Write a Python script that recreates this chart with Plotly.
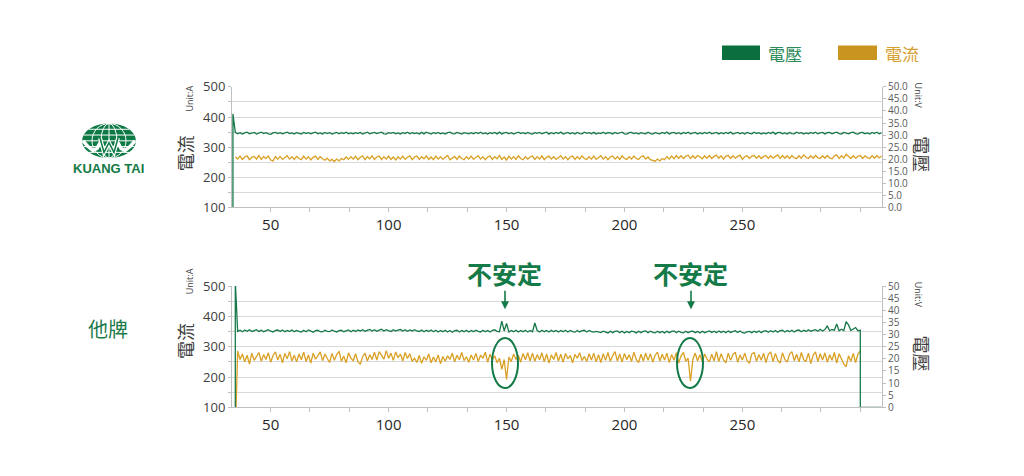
import plotly.graph_objects as go

W, H = 1024, 476

# ---------------- data ----------------
# top chart (KUANG TAI): time 35..309
TOP_START = 35
VOLT_TOP = [
    31.1,30.5,31.0,30.4,30.9,31.2,30.5,30.8,31.1,30.4,30.9,31.2,30.6,31.0,30.5,30.3,30.9,31.1,30.6,31.0,30.5,30.8,31.2,30.6,30.9,
    30.4,31.0,30.7,30.4,31.1,30.6,31.0,30.5,30.9,31.2,30.5,30.9,30.4,31.1,30.6,31.0,30.4,30.8,31.1,30.5,31.0,30.6,31.2,30.5,30.9,
    30.5,31.0,30.6,31.1,30.4,30.9,31.2,30.5,30.8,31.1,30.6,30.9,31.2,30.5,30.4,31.0,30.7,31.1,30.5,30.9,30.4,31.0,30.6,31.2,30.5,
    31.0,30.6,30.9,30.4,31.1,30.5,31.2,30.7,30.4,31.0,30.6,31.1,30.5,30.9,30.4,31.0,31.2,30.6,30.5,31.1,30.7,30.4,31.0,30.9,30.5,
    31.0,30.5,31.1,30.6,31.2,30.5,30.9,30.4,31.0,30.6,31.1,30.5,31.2,30.4,30.9,31.1,30.5,31.0,30.4,30.9,31.2,30.6,31.0,30.5,31.1,
    30.6,30.4,31.0,30.7,31.1,30.5,30.9,31.2,30.4,31.0,30.5,31.1,30.6,31.2,30.4,30.9,31.1,30.5,31.0,30.4,31.1,30.6,30.5,31.2,30.7,
    31.0,30.5,31.1,30.4,30.9,30.6,31.2,30.5,31.0,30.9,30.4,31.1,30.6,30.9,31.2,30.5,30.4,31.0,31.1,30.6,30.9,30.4,31.0,30.7,30.5,
    31.2,30.6,30.4,31.0,30.7,30.5,31.1,30.6,31.2,30.4,30.9,31.1,30.5,31.0,30.4,31.1,30.6,31.2,30.5,30.9,31.1,30.4,31.0,30.5,31.1,
    30.6,31.2,30.5,30.9,31.1,30.4,31.0,30.5,31.1,30.6,31.2,30.4,30.9,31.1,30.5,31.0,30.4,31.1,30.7,30.5,31.2,30.6,31.0,30.4,30.9,
    30.5,31.1,30.6,31.2,30.4,31.0,31.1,30.5,30.9,30.4,31.1,30.6,30.5,31.2,30.7,31.0,30.4,30.9,30.5,31.1,30.6,31.2,30.5,30.9,31.1,
    30.4,31.0,31.1,30.5,30.9,31.2,30.6,30.4,31.1,30.7,30.5,31.0,31.2,30.6,30.4,31.0,31.1,30.5,30.9,30.4,31.1,30.6,31.2,30.5,30.9,
]
VOLT_TOP_START = [0.0, 38.8]   # power-on spike at t=34
CURR_TOP = [
    268,260,270,259,267,271,258,266,269,260,272,259,268,262,270,257,254,268,260,269,259,266,271,260,268,
    259,269,262,258,270,260,268,257,266,270,259,268,261,256,263,254,259,252,260,254,262,258,267,259,268,
    260,269,258,266,271,258,268,261,271,259,267,270,258,268,260,270,259,267,257,268,260,270,259,266,271,
    258,267,270,259,268,261,271,259,267,258,270,260,268,259,266,272,258,265,269,259,270,262,258,268,260,
    270,259,266,271,260,268,258,267,270,259,268,261,272,259,267,257,270,260,268,259,271,262,258,268,260,
    267,270,259,268,260,271,258,266,270,260,268,259,266,271,260,268,258,267,270,259,268,260,271,262,259,
    268,260,270,259,266,271,260,268,258,267,270,260,268,259,271,262,259,268,260,270,262,259,268,271,260,
    267,258,255,253,260,254,262,258,268,260,270,261,272,263,271,262,270,273,262,271,263,272,268,261,271,
    263,272,262,269,273,263,271,260,270,272,262,271,263,269,273,259,268,271,262,270,272,263,271,262,269,
    272,262,271,263,269,274,262,272,263,271,262,272,264,262,271,263,274,266,262,271,263,272,265,262,271,
    263,272,264,261,271,274,262,271,264,276,270,262,271,263,269,272,262,271,265,262,271,263,272,264,270,
]

# bottom chart (other brand): time 36..300
BOT_START = 36
VOLT_BOT = [
    31.3,31.8,31.2,31.9,31.4,32.0,31.3,31.7,32.0,31.3,31.8,31.2,31.7,32.0,31.4,31.1,31.7,31.9,31.3,31.9,31.2,31.7,31.3,31.9,31.2,
    31.7,31.3,31.1,31.8,31.2,31.9,31.4,31.0,31.6,31.8,31.2,31.1,31.8,31.3,31.2,31.9,31.4,31.1,31.6,31.8,31.2,31.6,31.9,31.2,31.8,
    31.3,31.9,31.5,32.0,31.4,31.9,32.1,31.5,32.0,31.4,31.9,32.2,31.5,32.0,31.6,31.3,32.0,31.5,31.9,32.1,31.5,32.0,31.4,31.9,31.5,
    32.0,31.5,31.3,31.9,31.2,31.8,31.3,31.9,31.2,31.8,31.1,31.7,31.2,31.8,31.1,31.7,31.0,31.6,31.8,31.1,31.7,31.2,31.8,31.1,31.7,
    31.2,31.8,31.3,31.1,31.8,31.2,31.7,31.1,31.8,32.0,31.3,31.2,35.6,31.5,34.6,31.1,31.7,31.2,31.8,31.1,31.7,31.2,31.8,31.1,31.7,
    31.2,34.8,31.7,31.1,31.8,31.2,31.7,31.1,31.8,31.2,31.7,31.1,31.7,31.2,31.8,31.1,31.7,31.2,31.0,31.7,31.1,31.6,31.8,31.1,31.7,
    31.2,31.0,31.3,31.1,30.8,31.4,30.9,30.7,31.4,30.8,31.3,31.5,30.8,31.4,30.7,31.3,30.8,31.4,31.2,30.7,31.4,30.8,31.3,31.5,30.8,
    31.4,30.9,30.7,31.4,30.8,31.3,30.7,31.4,30.8,31.3,31.5,30.8,31.4,30.9,30.7,31.4,30.8,31.3,31.4,30.8,31.3,30.7,31.4,30.8,31.3,
    31.5,30.9,31.4,30.8,31.5,30.9,31.4,30.8,31.5,30.9,31.4,31.6,30.9,31.5,30.8,30.6,31.1,31.3,30.8,31.4,30.9,31.5,30.8,31.4,31.6,
    31.0,31.6,31.1,31.7,31.0,31.6,31.8,31.1,31.7,31.2,31.8,31.1,31.7,31.9,31.2,31.8,31.3,32.0,31.4,31.7,32.0,31.4,32.2,31.5,32.1,
    33.6,31.6,32.1,31.8,34.4,31.6,32.2,31.7,35.3,34.0,31.7,32.2,32.9,31.6,31.8,
]
VOLT_BOT_START = [0.0, 52.0]   # power-on spike at t=35
VOLT_BOT_END = [0.0, 0.0]      # power-off at t=300, stays 0 until t=309
VOLT_BOT_END_T = [300, 309]
CURR_BOT = [
    286,258,276,250,272,243,279,255,270,281,252,274,258,280,249,271,283,256,275,247,278,260,284,253,272,
    250,276,257,282,251,273,246,279,259,270,283,254,276,261,248,278,255,274,285,252,269,247,280,262,254,
    277,251,242,268,279,253,274,258,282,256,284,270,259,287,262,279,255,283,264,276,253,281,261,277,252,
    262,248,271,245,267,255,276,247,266,250,273,244,268,252,270,258,279,250,272,257,281,254,267,249,273,
    256,278,251,272,262,282,249,275,257,270,247,262,225,258,192,266,251,276,258,272,249,278,257,280,253,
    279,252,274,257,280,250,276,246,273,258,281,253,275,249,278,260,271,247,275,262,280,254,268,251,277,
    256,279,250,274,248,277,255,281,252,270,284,253,276,249,278,257,274,251,282,258,248,275,253,279,255,
    277,249,272,282,253,275,256,279,248,274,255,280,246,270,281,252,262,186,258,279,253,274,250,276,260,
    250,275,253,284,251,277,257,247,279,255,274,282,249,273,256,279,254,245,276,281,252,274,255,279,248,
    275,283,251,278,256,246,280,258,249,276,284,254,275,250,281,257,252,279,244,272,283,251,277,256,280,
    249,274,255,281,246,277,258,243,234,270,252,278,248,276,286,
]
CURR_BOT_START = [0]

X_TICKS = [50, 100, 150, 200, 250]
LEFT_TICKS = [100, 150, 200, 250, 300, 350, 400, 450, 500]
LEFT_LABELS = ["100", "", "200", "", "300", "", "400", "", "500"]

GREEN = "#17794a"
ORANGE = "#d9a024"
GRID = "#d9d9d9"
AXIS = "#bfbfbf"
CJK = "Noto Sans CJK TC"
NUM = "Open Sans"


def px(x):
    return x / W


def py(y):
    return 1 - y / H


t_top = list(range(TOP_START, TOP_START + len(CURR_TOP)))
t_top_v = [TOP_START - 1] * len(VOLT_TOP_START) + list(range(TOP_START, TOP_START + len(VOLT_TOP)))
t_bot = list(range(BOT_START, BOT_START + len(VOLT_BOT)))
t_bot_v = [BOT_START - 1] * len(VOLT_BOT_START) + t_bot + VOLT_BOT_END_T
t_bot_c = [BOT_START - 1] * len(CURR_BOT_START) + list(range(BOT_START, BOT_START + len(CURR_BOT)))

LW = 1.3
fig = go.Figure()
fig.add_trace(go.Scatter(x=t_top, y=CURR_TOP, xaxis="x", yaxis="y", mode="lines",
                         line=dict(color=ORANGE, width=LW), name="電流", showlegend=False))
fig.add_trace(go.Scatter(x=t_top_v, y=VOLT_TOP_START + VOLT_TOP, xaxis="x", yaxis="y2", mode="lines",
                         line=dict(color=GREEN, width=LW), name="電壓", showlegend=False))
fig.add_trace(go.Scatter(x=t_bot_c, y=CURR_BOT_START + CURR_BOT, xaxis="x2", yaxis="y3", mode="lines",
                         line=dict(color=ORANGE, width=LW), name="電流", showlegend=False))
fig.add_trace(go.Scatter(x=t_bot_v, y=VOLT_BOT_START + VOLT_BOT + VOLT_BOT_END, xaxis="x2", yaxis="y4",
                         mode="lines", line=dict(color=GREEN, width=LW), name="電壓", showlegend=False))

XDOM = [px(232), px(882)]
XRANGE = [33.6, 309.2]
TOP_DOM = [py(206), py(81)]
BOT_DOM = [py(414), py(288)]


def xaxis(anchor):
    return dict(domain=XDOM, range=XRANGE, anchor=anchor, tickmode="array", tickvals=X_TICKS,
                ticks="outside", ticklen=4, tickcolor=AXIS, showline=True, linecolor=AXIS,
                showgrid=False, zeroline=False, tickfont=dict(family=NUM, size=15, color="#262626"),
                minor=dict(tickmode="linear", tick0=50, dtick=50 / 3, ticks="outside",
                           ticklen=4, tickcolor=AXIS, showgrid=False))


def yleft(dom, anchor):
    return dict(domain=dom, range=[100, 500], anchor=anchor, tickmode="array",
                tickvals=LEFT_TICKS, ticktext=LEFT_LABELS, showgrid=True, gridcolor=GRID,
                ticks="outside", ticklen=3, tickcolor=AXIS, showline=True, linecolor=AXIS,
                zeroline=False, tickfont=dict(family=NUM, size=13, color="#404040"))


def yright(overlay, anchor, fmt):
    return dict(overlaying=overlay, side="right", anchor=anchor, range=[0, 50], tickmode="linear",
                tick0=0, dtick=5, tickformat=fmt, showgrid=False, ticks="outside", ticklen=3,
                tickcolor=AXIS, showline=True, linecolor=AXIS, zeroline=False,
                tickfont=dict(family=NUM, size=10, color="#595959"))


fig.update_layout(
    width=W, height=H, margin=dict(l=0, r=0, t=0, b=0),
    paper_bgcolor="white", plot_bgcolor="white", showlegend=False,
    xaxis=xaxis("y"), yaxis=yleft(TOP_DOM, "x"), yaxis2=yright("y", "x", ".1f"),
    xaxis2=xaxis("y3"), yaxis3=yleft(BOT_DOM, "x2"), yaxis4=yright("y3", "x2", "d"),
)

shapes = []
ann = []


def label(x, y, text, font, angle=0):
    ann.append(dict(x=px(x), y=py(y), xref="paper", yref="paper", text=text, showarrow=False,
                    xanchor="center", yanchor="middle", textangle=angle, font=font))


# legend
shapes.append(dict(type="rect", xref="paper", yref="paper", x0=px(722), x1=px(760), y0=py(53), y1=py(38),
                   fillcolor="#0b6e3d", line=dict(width=0)))
shapes.append(dict(type="rect", xref="paper", yref="paper", x0=px(838), x1=px(877), y0=py(53), y1=py(38),
                   fillcolor="#c9951f", line=dict(width=0)))
label(785, 46, "電壓", dict(family=CJK, size=17, color="#2f8a5a"))
label(902, 46, "電流", dict(family=CJK, size=17, color="#d4a030"))

# axis titles
for yc_title, yc_unit, yv_title, yv_unit in [(150, 93, 151, 90), (345, 283, 358, 297)]:
    label(185, yc_title, "電流", dict(family=CJK, size=18, color="#404040"), -90)
    label(189, yc_unit, "Unit:A", dict(family=NUM, size=9, color="#404040"), -90)
    label(922, yv_title, "電壓", dict(family=CJK, size=18, color="#404040"), 90)
    label(918, yv_unit, "Unit:V", dict(family=NUM, size=9, color="#404040"), 90)

# "unstable" callouts
for cx in (504, 690):
    label(cx, 274, "<b>不安定</b>", dict(family=CJK, size=25, color="#137a48"))
    ann.append(dict(x=px(cx + 1), y=py(312), xref="paper", yref="paper", text="", showarrow=True,
                    ax=0, ay=-20, arrowhead=2, arrowsize=1, arrowwidth=1.6, arrowcolor="#137a48"))
for x0, x1 in ((492, 518), (677, 703)):
    shapes.append(dict(type="circle", xref="paper", yref="paper", x0=px(x0), x1=px(x1),
                       y0=py(394), y1=py(342), line=dict(color="#137a48", width=2)))

# other brand label
label(108, 332, "他牌", dict(family=CJK, size=20, color="#1a7a4a"))

# KUANG TAI logo
LG = "#0d7a45"
cx, cy, rx, ry = 109, 137, 27, 18
shapes.append(dict(type="circle", xref="paper", yref="paper", x0=px(cx - rx), x1=px(cx + rx),
                   y0=py(cy + ry), y1=py(cy - ry), fillcolor=LG, line=dict(width=0)))
for mrx in (8, 17):
    shapes.append(dict(type="circle", xref="paper", yref="paper", x0=px(cx - mrx), x1=px(cx + mrx),
                       y0=py(cy + ry), y1=py(cy - ry), line=dict(color="white", width=1)))
shapes.append(dict(type="line", xref="paper", yref="paper", x0=px(cx), x1=px(cx),
                   y0=py(cy + ry), y1=py(cy - ry), line=dict(color="white", width=1)))
for dy in (-12, -6, 0, 6, 12):
    hw = rx * (1 - (dy / ry) ** 2) ** 0.5
    shapes.append(dict(type="line", xref="paper", yref="paper", x0=px(cx - hw), x1=px(cx + hw),
                       y0=py(cy + dy), y1=py(cy + dy), line=dict(color="white", width=1)))
wave = [(83, 137), (88, 143), (93, 147), (97, 145), (100, 139)]
wpath = "M " + " L ".join(f"{px(a)},{py(b)}" for a, b in wave)
shapes.append(dict(type="path", xref="paper", yref="paper", path=wpath, line=dict(color="white", width=3.5)))
wave2 = [(118, 139), (121, 145), (125, 147), (130, 143), (135, 137)]
wpath2 = "M " + " L ".join(f"{px(a)},{py(b)}" for a, b in wave2)
shapes.append(dict(type="path", xref="paper", yref="paper", path=wpath2, line=dict(color="white", width=3.5)))
wshape = [(100, 134), (104, 149), (109, 139), (114, 149), (118, 134)]
wp = "M " + " L ".join(f"{px(a)},{py(b)}" for a, b in wshape)
shapes.append(dict(type="path", xref="paper", yref="paper", path=wp, line=dict(color="white", width=4)))
shapes.append(dict(type="path", xref="paper", yref="paper", path=wp, line=dict(color=LG, width=1.5)))
label(108, 166, "<b>KUANG TAI</b>", dict(family="Liberation Sans", size=13, color="#137a45"))

fig.update_layout(shapes=shapes, annotations=ann)
fig.write_html("out.html")
